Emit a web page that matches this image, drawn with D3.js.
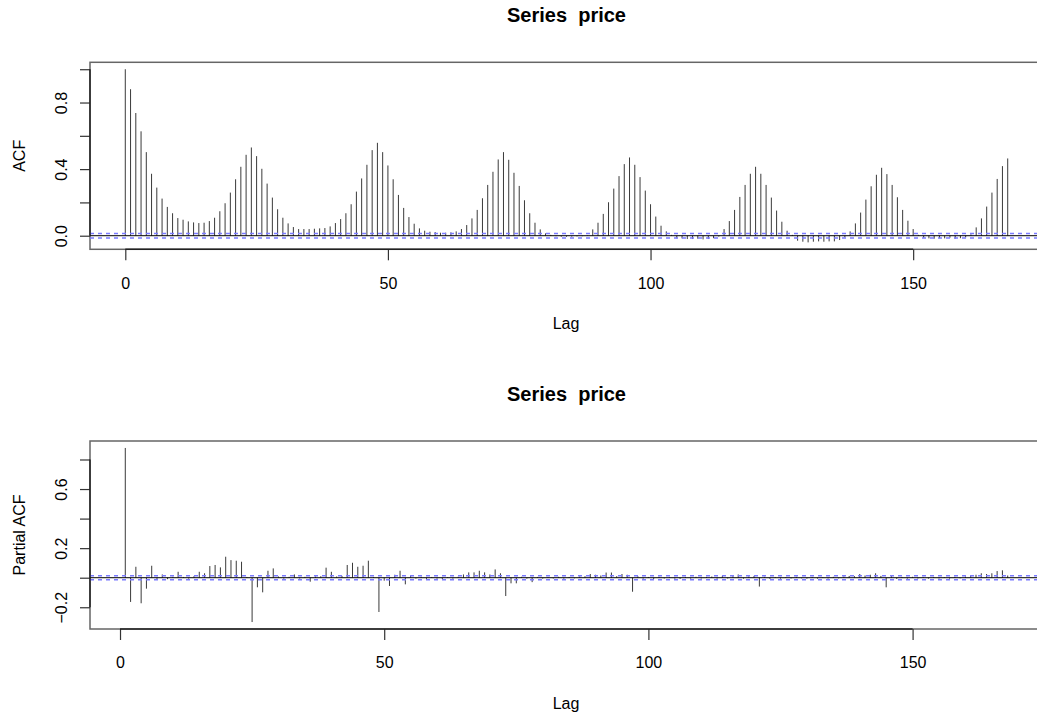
<!DOCTYPE html>
<html>
<head>
<meta charset="utf-8">
<script src="https://cdn.jsdelivr.net/npm/d3@7"></script>
<style>
  html, body { margin: 0; padding: 0; background: #fff; }
  svg { display: block; }
</style>
</head>
<body>
<script>
// Autocorrelation (lags 0..168) of the hourly price series
const acfLags = d3.range(0, 169);
const acfValues = [
  1.000, 0.880, 0.737, 0.627, 0.502, 0.372, 0.289, 0.223, 0.173, 0.135,
  0.106, 0.096, 0.086, 0.080, 0.076, 0.078, 0.088, 0.108, 0.147, 0.195,
  0.259, 0.339, 0.414, 0.486, 0.530, 0.478, 0.402, 0.313, 0.229, 0.159,
  0.108, 0.074, 0.052, 0.040, 0.040, 0.040, 0.042, 0.044, 0.046, 0.056,
  0.076, 0.100, 0.135, 0.189, 0.265, 0.344, 0.426, 0.514, 0.558, 0.502,
  0.422, 0.339, 0.245, 0.167, 0.112, 0.072, 0.044, 0.030, 0.024, 0.022,
  0.018, 0.018, 0.020, 0.026, 0.040, 0.064, 0.104, 0.155, 0.225, 0.305,
  0.384, 0.458, 0.502, 0.456, 0.378, 0.299, 0.213, 0.135, 0.078, 0.038,
  0.014, 0.005, -0.003, -0.006, -0.006, -0.005, -0.004, -0.003, 0.002, 0.038,
  0.078, 0.131, 0.201, 0.283, 0.358, 0.430, 0.470, 0.426, 0.352, 0.271,
  0.189, 0.115, 0.060, 0.026, 0.005, -0.016, -0.016, -0.020, -0.020, -0.018,
  -0.022, -0.020, -0.015, -0.005, 0.040, 0.088, 0.155, 0.233, 0.305, 0.372,
  0.414, 0.372, 0.305, 0.229, 0.151, 0.084, 0.030, 0.005, -0.030, -0.036,
  -0.040, -0.036, -0.034, -0.036, -0.034, -0.034, -0.026, -0.010, 0.026, 0.074,
  0.139, 0.217, 0.297, 0.366, 0.408, 0.370, 0.305, 0.231, 0.155, 0.090,
  0.040, 0.005, -0.012, -0.016, -0.018, -0.015, -0.016, -0.012, -0.018, -0.015,
  -0.010, 0.008, 0.050, 0.104, 0.175, 0.259, 0.341, 0.418, 0.464
];

// Partial autocorrelation (lags 1..168)
const pacfLags = d3.range(1, 169);
const pacfValues = [
  0.878, -0.164, 0.074, -0.173, -0.074, 0.081, -0.008, 0.022, -0.010, 0.006,
  0.040, 0.005, -0.006, 0.010, 0.040, 0.030, 0.079, 0.086, 0.070, 0.142,
  0.119, 0.115, 0.108, 0.005, -0.300, -0.065, -0.099, 0.047, 0.063, 0.008,
  -0.006, 0.006, 0.022, -0.005, 0.006, -0.027, 0.008, 0.010, 0.068, 0.040,
  0.008, 0.012, 0.086, 0.101, 0.074, 0.081, 0.115, 0.005, -0.232, -0.020,
  -0.056, 0.020, 0.047, -0.045, 0.018, -0.006, 0.006, -0.008, 0.005, -0.006,
  -0.008, 0.004, -0.006, 0.006, 0.022, 0.036, 0.036, 0.047, 0.036, 0.022,
  0.056, 0.030, -0.124, -0.038, -0.038, 0.006, -0.006, -0.030, 0.005, -0.006,
  0.004, -0.005, 0.006, -0.006, 0.005, -0.004, 0.008, 0.010, 0.025, 0.020,
  0.015, 0.035, 0.035, 0.010, 0.025, 0.020, -0.095, 0.010, -0.006, 0.005,
  -0.008, 0.006, -0.005, 0.004, -0.006, -0.008, 0.005, -0.006, 0.006, -0.005,
  0.005, 0.008, -0.006, 0.012, -0.005, 0.010, 0.022, -0.006, 0.008, 0.012,
  -0.060, 0.006, -0.008, 0.005, -0.006, 0.004, -0.005, 0.006, -0.004, -0.006,
  0.005, -0.006, 0.004, -0.005, 0.006, -0.004, 0.008, 0.012, 0.010, 0.025,
  0.015, 0.020, 0.030, 0.012, -0.065, 0.010, -0.008, 0.005, -0.006, 0.006,
  -0.005, 0.004, -0.006, 0.005, -0.005, 0.004, -0.006, 0.006, -0.004, 0.008,
  0.012, 0.020, 0.030, 0.025, 0.030, 0.045, 0.050, 0.015
];

// 95% confidence bound (±1.96/sqrt(n))
const ciBound = 0.0135;

const xTickValues = [0, 50, 100, 150];
const acfYTicks = [0, 0.2, 0.4, 0.6, 0.8, 1.0];
const acfYLabels = [0, 0.4, 0.8];
const pacfYTicks = [-0.2, 0, 0.2, 0.4, 0.6, 0.8];
const pacfYLabels = [-0.2, 0.2, 0.6];

const W = 1037, H = 717;
const FONT = "'Liberation Sans', Arial, Helvetica, sans-serif";

const svg = d3.select("body").append("svg")
  .attr("width", W).attr("height", H)
  .style("font-family", FONT);

function extend(lo, hi) {
  const r = hi - lo;
  return [lo - 0.04 * r, hi + 0.04 * r];
}

function drawPanel(opt) {
  const { top, bottom, left, right, lags, values, yTicks, yLabels, ylab, title } = opt;
  const g = svg.append("g");

  const x = d3.scaleLinear()
    .domain(extend(d3.min(lags), d3.max(lags)))
    .range([left, right]);
  const y = d3.scaleLinear()
    .domain(extend(Math.min(d3.min(values), -ciBound), Math.max(d3.max(values), ciBound)))
    .range([bottom, top]);

  // plot frame
  g.append("rect")
    .attr("x", left).attr("y", top)
    .attr("width", right - left).attr("height", bottom - top)
    .attr("fill", "none").attr("stroke", "#666").attr("stroke-width", 1.5);

  // spikes
  g.append("g").selectAll("line")
    .data(lags.map((l, i) => ({ lag: l, v: values[i] })))
    .join("line")
    .attr("x1", d => x(d.lag)).attr("x2", d => x(d.lag))
    .attr("y1", y(0)).attr("y2", d => y(d.v))
    .attr("stroke", "#3a3a3a").attr("stroke-width", 1);

  // zero line
  g.append("line")
    .attr("x1", left).attr("x2", right)
    .attr("y1", y(0)).attr("y2", y(0))
    .attr("stroke", "#000").attr("stroke-width", 1);

  // confidence bounds
  [ciBound, -ciBound].forEach(c => {
    g.append("line")
      .attr("x1", left).attr("x2", right)
      .attr("y1", y(c)).attr("y2", y(c))
      .attr("stroke", "#7b7bff")
      .attr("stroke-width", 1.5)
      .attr("stroke-dasharray", "4,4");
  });

  // x axis
  const xAxis = d3.axisBottom(x)
    .tickValues(xTickValues)
    .tickSize(11)
    .tickPadding(17)
    .tickFormat(d3.format("d"));
  const gx = g.append("g").attr("transform", `translate(0,${bottom})`).call(xAxis);
  gx.select(".domain").remove();
  gx.append("line")
    .attr("x1", x(xTickValues[0])).attr("x2", x(xTickValues[xTickValues.length - 1]))
    .attr("y1", 0).attr("y2", 0)
    .attr("stroke", "#222").attr("stroke-width", 1.5);
  gx.selectAll(".tick line").attr("stroke", "#333").attr("stroke-width", 1.2);
  gx.selectAll(".tick text")
    .attr("fill", "#000").style("font-size", "16px").style("font-family", FONT);

  // y axis
  const fmt = d3.format(".1f");
  const yAxis = d3.axisLeft(y)
    .tickValues(yTicks)
    .tickSize(10)
    .tickFormat(d => yLabels.some(v => Math.abs(v - d) < 1e-9) ? fmt(d) : "");
  const gy = g.append("g").attr("transform", `translate(${left},0)`).call(yAxis);
  gy.select(".domain").remove();
  gy.append("line")
    .attr("x1", 0).attr("x2", 0)
    .attr("y1", y(yTicks[0])).attr("y2", y(yTicks[yTicks.length - 1]))
    .attr("stroke", "#222").attr("stroke-width", 1.5);
  gy.selectAll(".tick line").attr("stroke", "#333").attr("stroke-width", 1.2);
  gy.selectAll(".tick text")
    .attr("x", null).attr("dy", null)
    .attr("transform", `translate(${66.5 - left},0) rotate(-90)`)
    .attr("text-anchor", "middle")
    .attr("fill", "#000").style("font-size", "16px").style("font-family", FONT);

  // axis titles
  g.append("text")
    .attr("x", (left + 1043) / 2 - 0.5).attr("y", bottom + 80)
    .attr("text-anchor", "middle")
    .style("font-size", "16px")
    .text("Lag");
  g.append("text")
    .attr("transform", `translate(25,${(top + bottom) / 2}) rotate(-90)`)
    .attr("text-anchor", "middle")
    .style("font-size", "16px")
    .text(ylab);

  // panel title
  g.append("text")
    .attr("x", (left + 1043) / 2).attr("y", top - 40)
    .attr("text-anchor", "middle")
    .style("font-size", "20px").style("font-weight", "bold")
    .style("white-space", "pre")
    .attr("xml:space", "preserve")
    .text(title);
}

drawPanel({
  top: 62.3, bottom: 249.3, left: 90, right: 1043,
  lags: acfLags, values: acfValues,
  yTicks: acfYTicks, yLabels: acfYLabels,
  ylab: "ACF", title: "Series  price"
});

drawPanel({
  top: 441, bottom: 629, left: 90, right: 1043,
  lags: pacfLags, values: pacfValues,
  yTicks: pacfYTicks, yLabels: pacfYLabels,
  ylab: "Partial ACF", title: "Series  price"
});
</script>
</body>
</html>
